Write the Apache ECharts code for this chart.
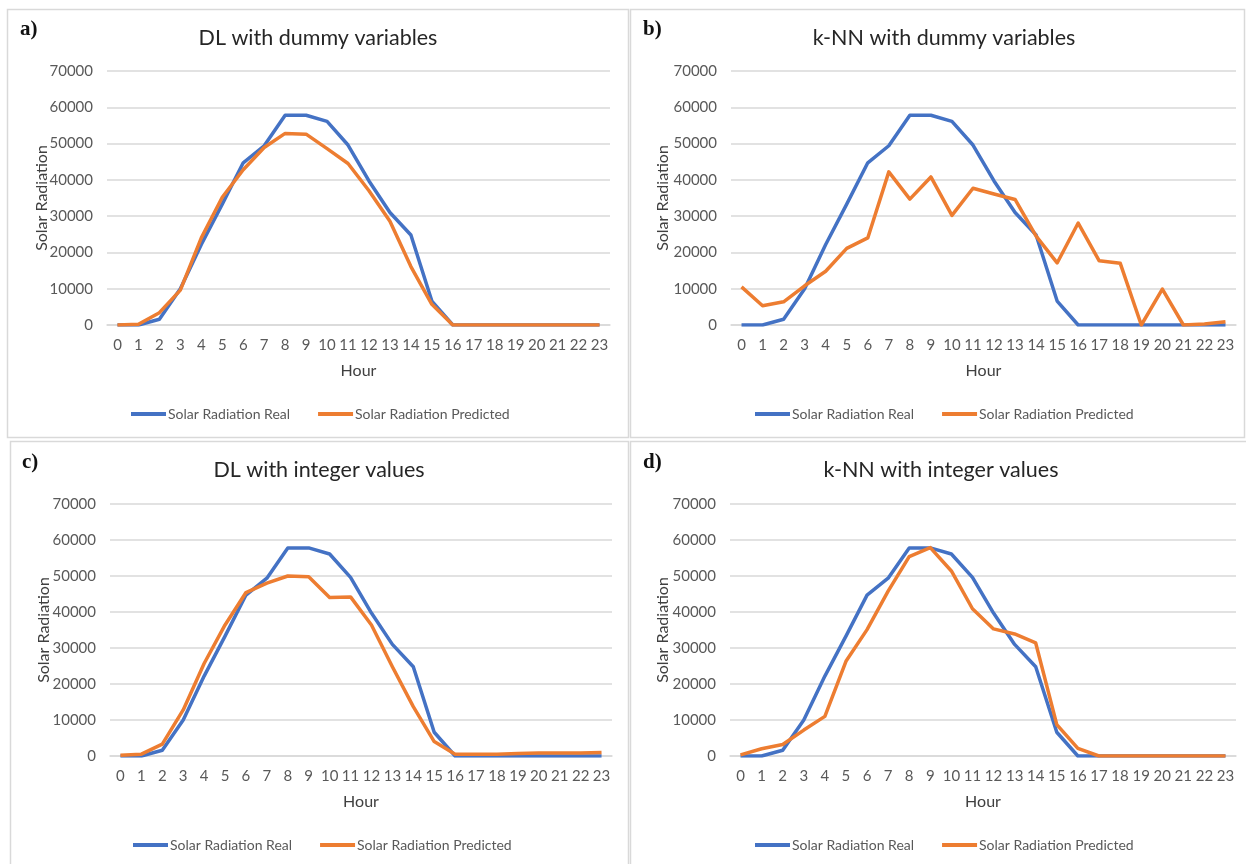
<!DOCTYPE html>
<html>
<head>
<meta charset="utf-8">
<script src="https://cdn.jsdelivr.net/npm/echarts@6/dist/echarts.min.js"></script>
<style>
html,body{margin:0;padding:0;background:#fff;}
#main{width:1246px;height:864px;}
</style>
</head>
<body>
<div id="main"></div>
<script>
const hours = ['0','1','2','3','4','5','6','7','8','9','10','11','12','13','14','15','16','17','18','19','20','21','22','23'];
const yTicks = [0, 10000, 20000, 30000, 40000, 50000, 60000, 70000];
const panelTitles = ['DL with dummy variables', 'k-NN with dummy variables', 'DL with integer values', 'k-NN with integer values'];
const panelLetters = ['a)', 'b)', 'c)', 'd)'];
const seriesNames = ['Solar Radiation Real', 'Solar Radiation Predicted'];

const realA = [0, 0, 1600, 10000, 22200, 33300, 44700, 49400, 57800, 57800, 56100, 49600, 39700, 31000, 24800, 6600, 0, 0, 0, 0, 0, 0, 0, 0];
const predA = [0, 200, 3400, 9600, 24000, 35200, 42800, 48900, 52800, 52600, 48600, 44500, 37000, 28600, 16100, 5700, 0, 0, 0, 0, 0, 0, 0, 0];
const realB = [0, 0, 1600, 10000, 22200, 33300, 44700, 49400, 57800, 57800, 56100, 49600, 39700, 31000, 24800, 6600, 0, 0, 0, 0, 0, 0, 0, 0];
const predB = [10500, 5300, 6400, 10800, 14800, 21100, 24000, 42200, 34700, 40800, 30200, 37700, 36100, 34600, 24500, 17100, 28100, 17700, 17000, 0, 9900, 0, 300, 900];
const realC = [0, 0, 1600, 10000, 22200, 33300, 44700, 49400, 57800, 57800, 56100, 49600, 39700, 31000, 24800, 6600, 0, 0, 0, 0, 0, 0, 0, 0];
const predC = [200, 500, 3300, 12800, 25700, 36400, 45400, 48000, 50000, 49800, 44000, 44200, 36400, 24800, 13700, 4000, 500, 500, 500, 700, 800, 800, 800, 1000];
const realD = [0, 0, 1600, 10000, 22200, 33300, 44700, 49400, 57800, 57800, 56100, 49600, 39700, 31000, 24800, 6600, 0, 0, 0, 0, 0, 0, 0, 0];
const predD = [300, 2000, 3200, 7200, 11000, 26300, 35100, 45800, 55400, 57900, 51400, 40900, 35300, 33900, 31400, 8700, 2100, 0, 0, 0, 0, 0, 0, 0];

const realSets = [realA, realB, realC, realD];
const predSets = [predA, predB, predC, predD];

const BLUE = '#4472C4';
const ORANGE = '#ED7D31';
const GRIDC = '#d9d9d9';
const TXT = '#595959';
const FONT = 'Lato';

// layout (pixels)
const grids = [
  {left: 107, top: 71, width: 503, height: 254},
  {left: 731, top: 71, width: 505, height: 254},
  {left: 110, top: 504, width: 502, height: 252},
  {left: 730, top: 504, width: 506, height: 252}
];
const boxes = [
  {x: 7, y: 9, w: 621, h: 428},
  {x: 630, y: 9, w: 614, h: 428},
  {x: 10, y: 441, w: 618, h: 430},
  {x: 630, y: 441, w: 620, h: 430}
];
const titlePos = [[318, 38], [944, 38], [319, 470], [941, 470]];
const letterPos = [[20, 30], [643, 30], [22, 463], [643, 463]];
const legendPos = [[126, 402], [750, 402], [128, 833], [750, 833]];
const yNameGap = [57, 60, 58, 59];

const graphics = [];
boxes.forEach(b => graphics.push({
  type: 'rect', shape: {x: b.x + 0.5, y: b.y + 0.5, width: b.w, height: b.h},
  style: {fill: 'none', stroke: GRIDC, lineWidth: 1.5}, silent: true
}));
titlePos.forEach((p, i) => graphics.push({
  type: 'text', x: p[0], y: p[1],
  style: {text: panelTitles[i], fill: '#262626', font: '21.5px ' + FONT, textAlign: 'center', textVerticalAlign: 'middle'}
}));
letterPos.forEach((p, i) => graphics.push({
  type: 'text', x: p[0], y: p[1],
  style: {text: panelLetters[i], fill: '#111', font: 'bold 21px "Liberation Serif"', textAlign: 'left', textVerticalAlign: 'middle'}
}));

const option = {
  backgroundColor: '#fff',
  animation: false,
  textStyle: {fontFamily: FONT},
  grid: grids.map(g => Object.assign({}, g)),
  legend: legendPos.map(p => ({
    left: p[0], top: p[1], orient: 'horizontal',
    data: seriesNames,
    icon: 'rect', itemWidth: 35, itemHeight: 4, itemGap: 28,
    textStyle: {color: TXT, fontSize: 14, fontFamily: FONT, padding: [0, 0, 0, -3]},
    selectedMode: false
  })),
  xAxis: grids.map((g, i) => ({
    type: 'category', gridIndex: i, data: hours, boundaryGap: true,
    axisLine: {show: true, lineStyle: {color: GRIDC, width: 1.5}},
    axisTick: {show: false},
    axisLabel: {color: TXT, fontSize: 15, interval: 0, margin: 13, fontFamily: FONT},
    name: 'Hour', nameLocation: 'middle', nameGap: 38, nameMoveOverlap: false,
    nameTextStyle: {color: '#404040', fontSize: 16, fontFamily: FONT}
  })),
  yAxis: grids.map((g, i) => ({
    type: 'value', gridIndex: i, min: yTicks[0], max: yTicks[yTicks.length - 1], interval: yTicks[1] - yTicks[0],
    axisLine: {show: false}, axisTick: {show: false},
    splitLine: {show: true, lineStyle: {color: GRIDC, width: 1.5}},
    axisLabel: {color: TXT, fontSize: 15, margin: 14, fontFamily: FONT, formatter: v => String(v)},
    name: 'Solar Radiation', nameLocation: 'middle', nameRotate: 90, nameGap: yNameGap[i], nameMoveOverlap: false,
    nameTextStyle: {color: '#404040', fontSize: 16, fontFamily: FONT}
  })),
  series: [],
  graphic: graphics
};

for (let i = 0; i < 4; i++) {
  option.series.push({
    name: seriesNames[0], type: 'line', xAxisIndex: i, yAxisIndex: i,
    data: realSets[i], symbol: 'none', smooth: false,
    lineStyle: {color: BLUE, width: 3.5, join: 'round'}, itemStyle: {color: BLUE}, z: 2
  });
  option.series.push({
    name: seriesNames[1], type: 'line', xAxisIndex: i, yAxisIndex: i,
    data: predSets[i], symbol: 'none', smooth: false,
    lineStyle: {color: ORANGE, width: 3.5, join: 'round'}, itemStyle: {color: ORANGE}, z: 3
  });
}

const chart = echarts.init(document.getElementById('main'), null, {renderer: 'canvas'});
chart.setOption(option);
</script>
</body>
</html>
